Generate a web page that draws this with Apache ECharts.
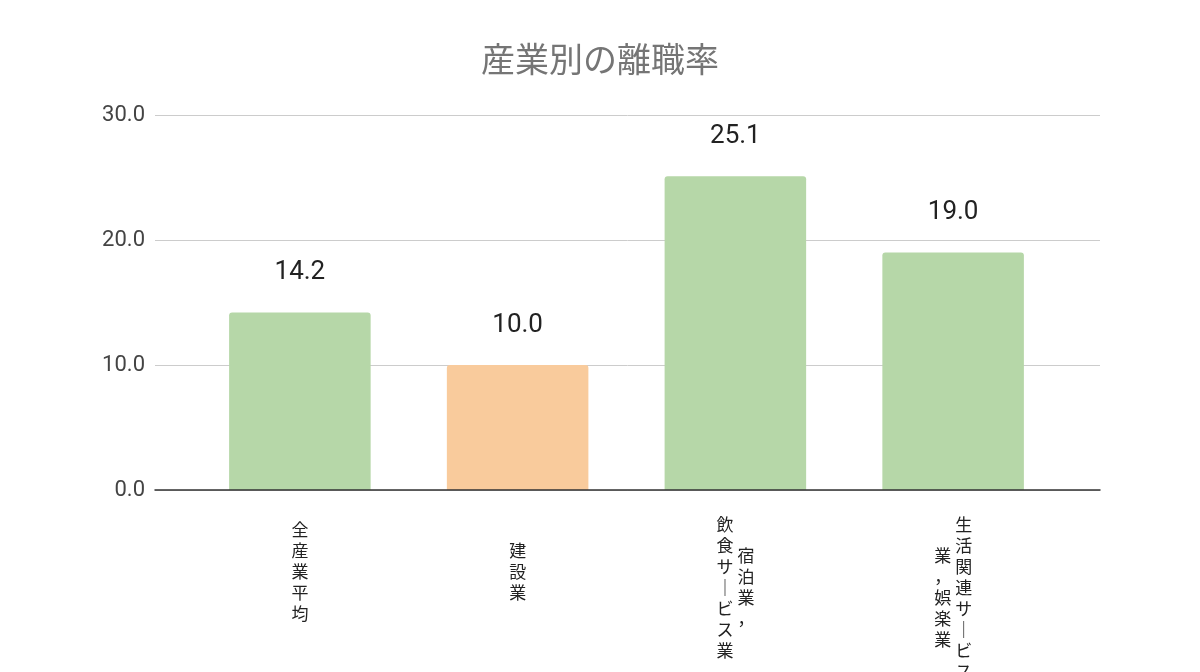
<!DOCTYPE html>
<html>
<head>
<meta charset="utf-8">
<title>産業別の離職率</title>
<script src="https://cdn.jsdelivr.net/npm/echarts@6/dist/echarts.min.js"></script>
<style>
  html, body { margin: 0; padding: 0; background: #fff; }
  #main { width: 1200px; height: 672px; }
</style>
</head>
<body>
<div id="main"></div>
<script>
const categories = ['全産業平均', '建設業', '宿泊業，飲食サービス業', '生活関連サービス業，娯楽業'];
const rates = [14.2, 10.0, 25.1, 19.0];
// 縦書きラベルの列（右の列から順に）
const labelColumns = [
  ['全産業平均'],
  ['建設業'],
  ['宿泊業，', '飲食サービス業'],
  ['生活関連サービス', '業，娯楽業']
];
const barColors = ['#b6d7a8', '#f9cb9c', '#b6d7a8', '#b6d7a8'];

const LINE = 21;
const COL_GAP = 21;

// vertical text: one character per line, long vowel mark drawn upright
function verticalText(s) {
  return s.split('').map(c => (c === 'ー' ? '｜' : c)).join('\n');
}

// category items for the k-th label column, shifted with padding
function columnData(k) {
  return categories.map((name, i) => {
    const cols = labelColumns[i];
    if (k >= cols.length) return { value: name };
    const maxLen = Math.max(5.5, ...cols.map(c => c.length));
    const top = (maxLen - cols[k].length) * LINE / 2;
    let dx = 0;
    if (cols.length > 1) dx = k === 0 ? COL_GAP / 2 : -COL_GAP / 2;
    return {
      value: name,
      textStyle: { padding: [top, dx < 0 ? -2 * dx : 0, 0, dx > 0 ? 2 * dx : 0] }
    };
  });
}

function columnAxis(k) {
  return {
    type: 'category',
    gridIndex: 1,
    position: 'bottom',
    data: columnData(k),
    axisLine: { show: false },
    axisTick: { show: false },
    axisLabel: {
      interval: 0,
      margin: 24,
      fontSize: 17,
      lineHeight: LINE,
      color: '#222',
      fontFamily: '"Noto Sans CJK JP", sans-serif',
      verticalAlign: 'top',
      formatter: (v, i) => {
        const cols = labelColumns[i];
        return k < cols.length ? verticalText(cols[k]) : '';
      }
    }
  };
}

const chart = echarts.init(document.getElementById('main'));
chart.setOption({
  backgroundColor: '#fff',
  animation: false,
  title: {
    text: '産業別の離職率',
    left: 'center',
    top: 42,
    textStyle: {
      fontSize: 34,
      fontWeight: 'normal',
      color: '#757575',
      fontFamily: 'Roboto, "Noto Sans CJK JP", sans-serif'
    }
  },
  grid: [
    { left: 155, right: 100, top: 115, bottom: 182, outerBoundsMode: 'none' },
    { left: 191, right: 138, top: 115, bottom: 182, outerBoundsMode: 'none' }
  ],
  xAxis: [
    {
      type: 'value',
      gridIndex: 0,
      min: 0,
      max: 1,
      z: 5,
      axisLine: { show: true, lineStyle: { color: '#333', width: 1.5 } },
      axisTick: { show: false },
      axisLabel: { show: false },
      splitLine: { show: false }
    },
    columnAxis(0),
    columnAxis(1)
  ],
  yAxis: [
    {
      type: 'value',
      gridIndex: 0,
      min: 0,
      max: 30,
      interval: 10,
      axisLine: { show: false },
      axisTick: { show: false },
      axisLabel: {
        margin: 10,
        fontSize: 22,
        color: '#444',
        fontFamily: 'Roboto, sans-serif',
        formatter: v => v.toFixed(1)
      },
      splitLine: { lineStyle: { color: '#ccc', width: 1 } }
    },
    { type: 'value', gridIndex: 1, min: 0, max: 30, show: false }
  ],
  series: [{
    type: 'bar',
    xAxisIndex: 1,
    yAxisIndex: 1,
    data: rates,
    barCategoryGap: '35%',
    itemStyle: {
      color: p => barColors[p.dataIndex],
      borderRadius: [3, 3, 0, 0]
    },
    label: {
      show: true,
      position: 'top',
      distance: 27,
      fontSize: 26,
      color: '#222',
      fontFamily: 'Roboto, sans-serif',
      formatter: p => p.value.toFixed(1)
    }
  }]
});
</script>
</body>
</html>
